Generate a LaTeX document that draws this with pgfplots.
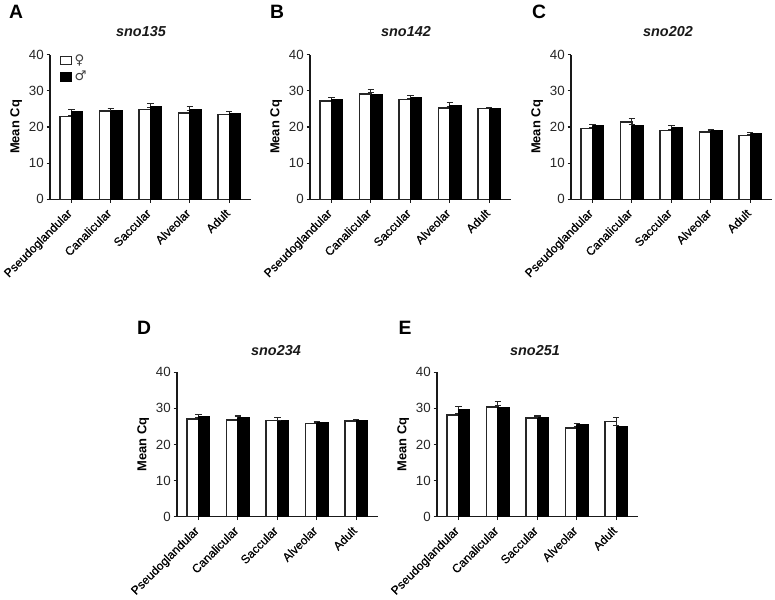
\documentclass[border=0pt]{standalone}
\usepackage{fontspec}
\usepackage{pgfplots}
\usepackage{pgfplotstable}
\pgfplotsset{compat=1.18}
\setmainfont{Liberation Sans}
\newfontfamily\symfont{DejaVu Sans}
\newfontfamily\labfont[FakeBold=0.5]{Liberation Sans}

% x, female mean, female sem, male mean, male sem
\pgfplotstableread{
x f fe m me
0 22.9 0.4 24.3 0.5
1 24.4 0.8 24.4 0.7
2 24.9 0.5 25.7 0.7
3 23.9 0.65 24.7 0.9
4 23.4 0.2 23.8 0.4
}\tabA
\pgfplotstableread{
x f fe m me
0 27.2 0.2 27.7 0.4
1 29.1 1.2 29.0 0.5
2 27.7 0.3 28.1 0.5
3 25.3 0.4 26.0 0.8
4 25.1 0.3 25.0 0.3
}\tabB
\pgfplotstableread{
x f fe m me
0 19.6 0.2 20.4 0.3
1 21.4 1.0 20.3 0.3
2 19.0 0.2 19.7 0.6
3 18.6 0.4 19.0 0.4
4 17.7 0.2 18.2 0.4
}\tabC
\pgfplotstableread{
x f fe m me
0 27.0 0.4 27.8 0.5
1 26.8 1.2 27.5 0.2
2 26.6 0.8 26.5 0.2
3 25.8 0.3 26.1 0.2
4 26.5 0.4 26.7 0.3
}\tabD
\pgfplotstableread{
x f fe m me
0 28.2 0.3 29.7 0.8
1 30.4 1.5 30.3 0.6
2 27.3 0.3 27.4 0.5
3 24.6 0.3 25.4 0.4
4 26.4 1.1 24.9 0.4
}\tabE

\pgfplotsset{
  panel/.style={
    scale only axis, width=150.75pt, height=108.4pt,
    anchor=south west,
    axis lines=left, axis line style={-, line width=.85pt, black!90},
    xmin=-0.54, xmax=4.55, ymin=0, ymax=40,
    ytick={0,10,20,30,40},
    xtick={0,1,2,3,4},
    xticklabels={Pseudoglandular,Canalicular,Saccular,Alveolar,Adult},
    tick align=outside, major tick length=2.6pt,
    tick style={line width=.85pt, black!90},
    /pgf/number format/assume math mode=true,
    y tick label style={font=\fontsize{10}{11}\selectfont, black!85, xshift=1.4pt},
    x tick label style={font=\fontsize{9}{11}\selectfont\labfont, black, rotate=45, anchor=north east, inner sep=1pt, yshift=0.9pt, xshift=-4.2pt},
    ylabel={\textbf{Mean Cq}},
    ylabel style={font=\fontsize{9.7}{11}\selectfont, at={(axis description cs:-0.115,0.5)}, anchor=south},
    legend style={draw=none, fill=none, at={(rel axis cs:0.04,1.03)}, anchor=north west,
      font=\fontsize{10}{11}\selectfont\symfont\color{black!75}, row sep=-0.4pt, inner sep=1pt},
    legend cell align=left,
    legend image code/.code={\draw[##1] (0pt,-3.1pt) rectangle (8.2pt,3.1pt);},
  },
  fbar/.style={ybar, draw=black!85, fill=white, line width=1.05pt, bar width=8.4pt, bar shift=-4.2pt},
  mbar/.style={ybar, draw=black, fill=black, line width=1.05pt, bar width=8.4pt, bar shift=4.2pt},
  errs/.style={error bars/.cd, y dir=plus, y explicit,
    error bar style={line width=.75pt, black!85},
    error mark options={rotate=90, mark size=2.4pt, line width=.75pt, black!85}},
}

% left px, bottom px (from the top of the image), table, extra axis options
\newcommand{\panel}[4]{%
  \begin{axis}[panel, at={({#1*0.75pt},{(600-#2)*0.75pt})}, #4]
    \addplot[fbar, errs] table[x=x, y=f, y error plus=fe] {#3};
    \addplot[mbar, errs] table[x=x, y=m, y error plus=me] {#3};
  \end{axis}%
}

\begin{document}
\begin{tikzpicture}[x=0.75pt, y=0.75pt]
\path[use as bounding box] (0,0) rectangle (775,600);

\panel{50}{199.3}{\tabA}{legend entries={♀,♂}}
\panel{310}{199.3}{\tabB}{}
\panel{571}{199.3}{\tabC}{}
\panel{177}{516.7}{\tabD}{}
\panel{437}{516.7}{\tabE}{}

\foreach \px/\py/\name in {141/32/sno135, 406/32/sno142, 668/32/sno202, 276/351/sno234, 535/351/sno251}
  \node[font=\fontsize{10.8}{12}\selectfont\bfseries\itshape, black!90] at (\px,600-\py) {\name};
\foreach \px/\py/\name in {16/12/A, 277/12/B, 539/12/C, 144/328/D, 405/328/E}
  \node[font=\fontsize{14.5}{15}\selectfont\bfseries] at (\px,600-\py) {\name};
\end{tikzpicture}
\end{document}
